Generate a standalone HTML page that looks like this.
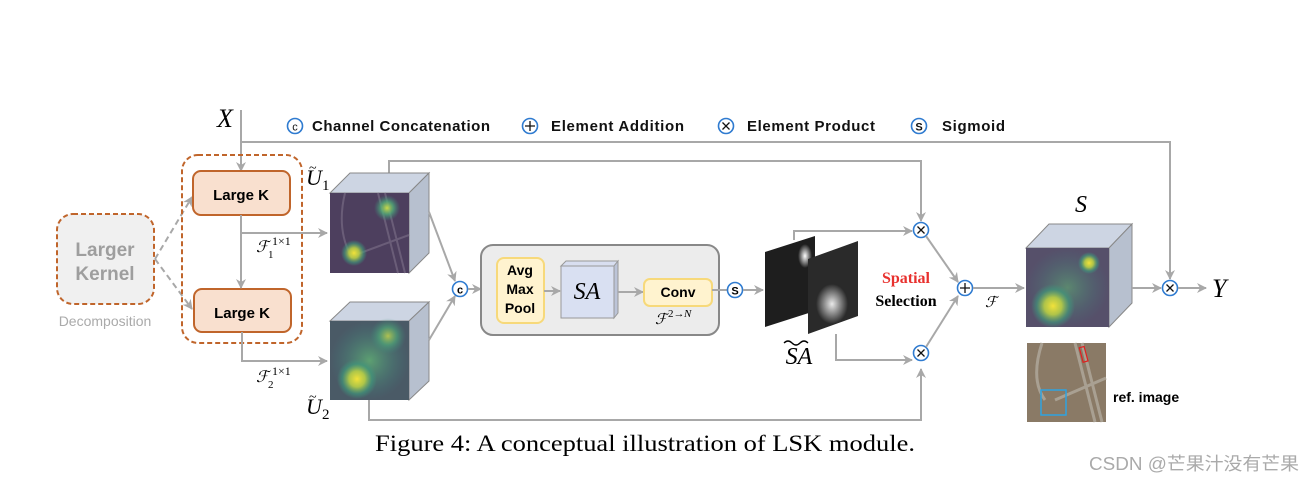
<!DOCTYPE html>
<html><head><meta charset="utf-8"><style>
html,body{margin:0;padding:0;background:#fff;}
svg{display:block;}
.sans{font-family:"Liberation Sans",sans-serif;}
.serif{font-family:"Liberation Serif",serif;}
</style></head><body>
<svg width="1316" height="482" viewBox="0 0 1316 482" xmlns="http://www.w3.org/2000/svg">
<defs>
<marker id="ar" markerWidth="10" markerHeight="10" refX="9" refY="5" orient="auto" markerUnits="userSpaceOnUse">
<path d="M0,0 L10,5 L0,10 L3,5 Z" fill="#a8a8a8"/></marker>
<radialGradient id="spotY" cx="0.5" cy="0.5" r="0.5"><stop offset="0" stop-color="#f2e23a"/><stop offset="0.4" stop-color="#b9cf45" stop-opacity="0.9"/><stop offset="0.75" stop-color="#3e9a7c" stop-opacity="0.6"/><stop offset="1" stop-color="#3e9a7c" stop-opacity="0"/></radialGradient>
<radialGradient id="spotG" cx="0.5" cy="0.5" r="0.5"><stop offset="0" stop-color="#c9d84a"/><stop offset="0.5" stop-color="#4faa78" stop-opacity="0.8"/><stop offset="1" stop-color="#3e8a7c" stop-opacity="0"/></radialGradient>
<radialGradient id="wide" cx="0.5" cy="0.5" r="0.5"><stop offset="0" stop-color="#5fa872" stop-opacity="0.9"/><stop offset="1" stop-color="#3e7e80" stop-opacity="0"/></radialGradient>
<radialGradient id="wspot" cx="0.5" cy="0.5" r="0.5"><stop offset="0" stop-color="#fff"/><stop offset="1" stop-color="#fff" stop-opacity="0"/></radialGradient>
</defs>

<text x="217" y="127" class="serif" font-size="26" font-style="italic">X</text>
<line x1="241" y1="110" x2="241" y2="171" stroke="#a8a8a8" stroke-width="2" marker-end="url(#ar)"/>
<polyline points="241,142 1170,142 1170,279" fill="none" stroke="#a8a8a8" stroke-width="2" marker-end="url(#ar)"/>

<g class="sans" font-size="15" font-weight="bold" fill="#111">
<circle cx="295" cy="126" r="7.5" fill="#fff" stroke="#2f7bd0" stroke-width="1.6"/><text x="295" y="130.5" font-size="11" text-anchor="middle" font-weight="normal">c</text>
<text x="312" y="131" textLength="178">Channel Concatenation</text>
<circle cx="530" cy="126" r="7.5" fill="#fff" stroke="#2f7bd0" stroke-width="1.6"/><path d="M525,126 H535 M530,121 V131" stroke="#111" stroke-width="1.3"/>
<text x="551" y="131" textLength="133">Element Addition</text>
<circle cx="726" cy="126" r="7.5" fill="#fff" stroke="#2f7bd0" stroke-width="1.6"/><path d="M722.5,122.5 L729.5,129.5 M729.5,122.5 L722.5,129.5" stroke="#111" stroke-width="1.3"/>
<text x="747" y="131" textLength="128">Element Product</text>
<circle cx="919" cy="126" r="7.5" fill="#fff" stroke="#2f7bd0" stroke-width="1.6"/><text x="919" y="130.5" font-size="11" text-anchor="middle">S</text>
<text x="942" y="131" textLength="63">Sigmoid</text>
</g>

<rect x="57" y="214" width="97" height="90" rx="16" fill="#f0f0f0" stroke="#c0652b" stroke-width="2" stroke-dasharray="5,3"/>
<text x="105" y="256" class="sans" font-size="19" font-weight="bold" fill="#9e9e9e" text-anchor="middle">Larger</text>
<text x="105" y="280" class="sans" font-size="19" font-weight="bold" fill="#9e9e9e" text-anchor="middle">Kernel</text>
<text x="105" y="326" class="sans" font-size="14" fill="#aaa" text-anchor="middle">Decomposition</text>
<line x1="155" y1="259" x2="192" y2="197" stroke="#a8a8a8" stroke-width="2" stroke-dasharray="6,4" marker-end="url(#ar)"/>
<line x1="155" y1="259" x2="192" y2="309" stroke="#a8a8a8" stroke-width="2" stroke-dasharray="6,4" marker-end="url(#ar)"/>

<rect x="182" y="155" width="120" height="188" rx="16" fill="none" stroke="#c0652b" stroke-width="2" stroke-dasharray="5,3"/>
<rect x="193" y="171" width="97" height="44" rx="8" fill="#f9e0cf" stroke="#c0652b" stroke-width="2"/>
<text x="241" y="200" class="sans" font-size="15" font-weight="bold" text-anchor="middle">Large K</text>
<rect x="194" y="289" width="97" height="43" rx="8" fill="#f9e0cf" stroke="#c0652b" stroke-width="2"/>
<text x="242" y="318" class="sans" font-size="15" font-weight="bold" text-anchor="middle">Large K</text>
<line x1="241" y1="215" x2="241" y2="288" stroke="#a8a8a8" stroke-width="2" marker-end="url(#ar)"/>
<polyline points="241,215 241,233 327,233" fill="none" stroke="#a8a8a8" stroke-width="2" marker-end="url(#ar)"/>
<polyline points="242,332 242,361 327,361" fill="none" stroke="#a8a8a8" stroke-width="2" marker-end="url(#ar)"/>
<g class="serif" font-style="italic">
<text x="256" y="252" font-size="16">ℱ</text><text x="268" y="258" font-size="11" font-style="normal">1</text><text x="272" y="245" font-size="12" font-style="normal">1×1</text>
<text x="256" y="382" font-size="16">ℱ</text><text x="268" y="388" font-size="11" font-style="normal">2</text><text x="272" y="375" font-size="12" font-style="normal">1×1</text>
</g>

<polyline points="389,173 389,161 921,161 921,221" fill="none" stroke="#a8a8a8" stroke-width="2" marker-end="url(#ar)"/>
<polygon points="330,193 350,173 429,173 409,193" fill="#cdd5e3" stroke="#888" stroke-width="1"/>
<polygon points="409,193 429,173 429,253 409,273" fill="#b7c0cf" stroke="#888" stroke-width="1"/>
<rect x="330" y="193" width="79" height="80" fill="#4d3f5e"/>
<path d="M345,193 Q336,230 352,258 M378,193 L398,273 M385,193 L405,273 M355,255 L409,235" stroke="#6a5d78" stroke-width="2" fill="none"/>
<circle cx="387" cy="208" r="13" fill="url(#spotG)"/>
<circle cx="354" cy="253" r="13" fill="url(#spotY)"/>
<text x="306" y="185" class="serif" font-size="22" font-style="italic">U</text><text x="309" y="172" class="serif" font-size="14">~</text><text x="322" y="190" class="serif" font-size="15">1</text>

<polyline points="369,400 369,420 921,420 921,369" fill="none" stroke="#a8a8a8" stroke-width="2" marker-end="url(#ar)"/>
<polygon points="330,321 350,302 429,302 409,321" fill="#cdd5e3" stroke="#888" stroke-width="1"/>
<polygon points="409,321 429,302 429,381 409,400" fill="#b7c0cf" stroke="#888" stroke-width="1"/>
<rect x="330" y="321" width="79" height="79" fill="#4a5a66"/>
<rect x="330" y="321" width="79" height="79" fill="url(#wide)"/>
<circle cx="388" cy="336" r="18" fill="url(#spotG)" opacity="0.8"/>
<circle cx="357" cy="379" r="20" fill="url(#spotY)"/>
<text x="306" y="414" class="serif" font-size="22" font-style="italic">U</text><text x="309" y="401" class="serif" font-size="14">~</text><text x="322" y="419" class="serif" font-size="15">2</text>

<line x1="429" y1="212" x2="455" y2="281" stroke="#a8a8a8" stroke-width="2" marker-end="url(#ar)"/>
<line x1="429" y1="340" x2="455" y2="296" stroke="#a8a8a8" stroke-width="2" marker-end="url(#ar)"/>
<circle cx="460" cy="289" r="7.5" fill="#fff" stroke="#2f7bd0" stroke-width="1.6"/><text x="460" y="293.5" class="sans" font-size="11" font-weight="bold" text-anchor="middle">c</text>
<line x1="468" y1="289" x2="481" y2="289" stroke="#a8a8a8" stroke-width="2" marker-end="url(#ar)"/>

<rect x="481" y="245" width="238" height="90" rx="12" fill="#ececec" stroke="#888" stroke-width="2"/>
<rect x="497" y="258" width="47" height="65" rx="7" fill="#fff3cf" stroke="#f7d97a" stroke-width="2"/>
<g class="sans" font-size="14" font-weight="bold" text-anchor="middle">
<text x="520" y="275">Avg</text><text x="520" y="294">Max</text><text x="520" y="313">Pool</text>
</g>
<line x1="544" y1="291" x2="560" y2="291" stroke="#a8a8a8" stroke-width="2" marker-end="url(#ar)"/>
<polygon points="561,266 566,261 618,261 614,266" fill="#d8def0" stroke="#999"/>
<polygon points="614,266 618,261 618,313 614,318" fill="#bcc4d8" stroke="#999"/>
<rect x="561" y="266" width="53" height="52" fill="#d9e0f2" stroke="#999"/>
<text x="587" y="299" class="serif" font-size="24" font-style="italic" text-anchor="middle">SA</text>
<line x1="618" y1="292" x2="643" y2="292" stroke="#a8a8a8" stroke-width="2" marker-end="url(#ar)"/>
<rect x="644" y="279" width="68" height="27" rx="6" fill="#fff3cf" stroke="#f7d97a" stroke-width="2"/>
<text x="678" y="297" class="sans" font-size="14" font-weight="bold" text-anchor="middle">Conv</text>
<text x="655" y="324" class="serif" font-size="15" font-style="italic">ℱ</text><text x="668" y="317" class="serif" font-size="11">2→</text><text x="684" y="317" class="serif" font-size="11" font-style="italic">N</text>
<line x1="712" y1="290" x2="727" y2="290" stroke="#a8a8a8" stroke-width="2"/>
<circle cx="735" cy="290" r="7.5" fill="#fff" stroke="#2f7bd0" stroke-width="1.6"/><text x="735" y="294.5" class="sans" font-size="11" font-weight="bold" text-anchor="middle">S</text>
<line x1="743" y1="290" x2="763" y2="290" stroke="#a8a8a8" stroke-width="2" marker-end="url(#ar)"/>

<polyline points="794,240 794,231 912,231" fill="none" stroke="#a8a8a8" stroke-width="2" marker-end="url(#ar)"/>
<polygon points="765,252 815,236 815,311 765,327" fill="#1e1e1e"/>
<ellipse cx="805" cy="256" rx="7" ry="12" fill="url(#wspot)"/>
<polygon points="808,259 858,241 858,316 808,334" fill="#2a2a2a"/>
<ellipse cx="832" cy="304" rx="16" ry="20" fill="url(#wspot)" opacity="0.9"/>
<polyline points="836,334 836,360 912,360" fill="none" stroke="#a8a8a8" stroke-width="2" marker-end="url(#ar)"/>
<text x="799" y="364" class="serif" font-size="24" font-style="italic" text-anchor="middle">SA</text>
<path d="M784,343 q4,-4 8,0 t8,0 t8,0" stroke="#000" stroke-width="1.3" fill="none"/>

<text x="906" y="283" class="serif" font-size="16" font-weight="bold" fill="#e8312e" text-anchor="middle">Spatial</text>
<text x="906" y="306" class="serif" font-size="16" font-weight="bold" text-anchor="middle">Selection</text>

<circle cx="921" cy="230" r="7.5" fill="#fff" stroke="#2f7bd0" stroke-width="1.6"/><path d="M917.5,226.5 L924.5,233.5 M924.5,226.5 L917.5,233.5" stroke="#111" stroke-width="1.3"/>
<circle cx="921" cy="353" r="7.5" fill="#fff" stroke="#2f7bd0" stroke-width="1.6"/><path d="M917.5,349.5 L924.5,356.5 M924.5,349.5 L917.5,356.5" stroke="#111" stroke-width="1.3"/>
<line x1="926" y1="236" x2="958" y2="282" stroke="#a8a8a8" stroke-width="2" marker-end="url(#ar)"/>
<line x1="926" y1="347" x2="958" y2="296" stroke="#a8a8a8" stroke-width="2" marker-end="url(#ar)"/>
<circle cx="965" cy="288" r="7.5" fill="#fff" stroke="#2f7bd0" stroke-width="1.6"/><path d="M960,288 H970 M965,283 V293" stroke="#111" stroke-width="1.3"/>
<line x1="973" y1="288" x2="1024" y2="288" stroke="#a8a8a8" stroke-width="2" marker-end="url(#ar)"/>
<text x="985" y="307" class="serif" font-size="15" font-style="italic">ℱ</text>

<text x="1081" y="212" class="serif" font-size="24" font-style="italic" text-anchor="middle">S</text>
<polygon points="1026,248 1049,224 1132,224 1109,248" fill="#cdd5e3" stroke="#888" stroke-width="1"/>
<polygon points="1109,248 1132,224 1132,303 1109,327" fill="#b7c0cf" stroke="#888" stroke-width="1"/>
<rect x="1026" y="248" width="83" height="79" fill="#56506a"/>
<rect x="1026" y="248" width="83" height="79" fill="url(#wide)" opacity="0.7"/>
<circle cx="1089" cy="263" r="11" fill="url(#spotY)"/>
<circle cx="1053" cy="306" r="22" fill="url(#spotY)"/>
<line x1="1132" y1="288" x2="1161" y2="288" stroke="#a8a8a8" stroke-width="2" marker-end="url(#ar)"/>
<circle cx="1170" cy="288" r="7.5" fill="#fff" stroke="#2f7bd0" stroke-width="1.6"/><path d="M1166.5,284.5 L1173.5,291.5 M1173.5,284.5 L1166.5,291.5" stroke="#111" stroke-width="1.3"/>
<line x1="1178" y1="288" x2="1206" y2="288" stroke="#a8a8a8" stroke-width="2" marker-end="url(#ar)"/>
<text x="1212" y="297" class="serif" font-size="26" font-style="italic">Y</text>

<rect x="1027" y="343" width="79" height="79" fill="#8a7a66"/>
<path d="M1042,343 Q1030,380 1045,400 M1075,343 L1095,422 M1082,343 L1102,422 M1055,400 L1106,378" stroke="#a9a092" stroke-width="3" fill="none"/>
<rect x="1041" y="390" width="25" height="25" fill="none" stroke="#2ea3e0" stroke-width="1.5"/>
<rect x="1081" y="347" width="5" height="15" fill="none" stroke="#e02020" stroke-width="1.2" transform="rotate(-15 1083 354)"/>
<text x="1113" y="402" class="sans" font-size="14" font-weight="bold">ref. image</text>

<text x="375" y="451" class="serif" font-size="23" textLength="540" lengthAdjust="spacingAndGlyphs">Figure 4: A conceptual illustration of LSK module.</text>
<text x="1089" y="470" font-family="'Liberation Sans','Noto Sans CJK SC',sans-serif" font-size="18" fill="#aaa" textLength="210" lengthAdjust="spacingAndGlyphs">CSDN @芒果汁没有芒果</text>
</svg>
</body></html>
